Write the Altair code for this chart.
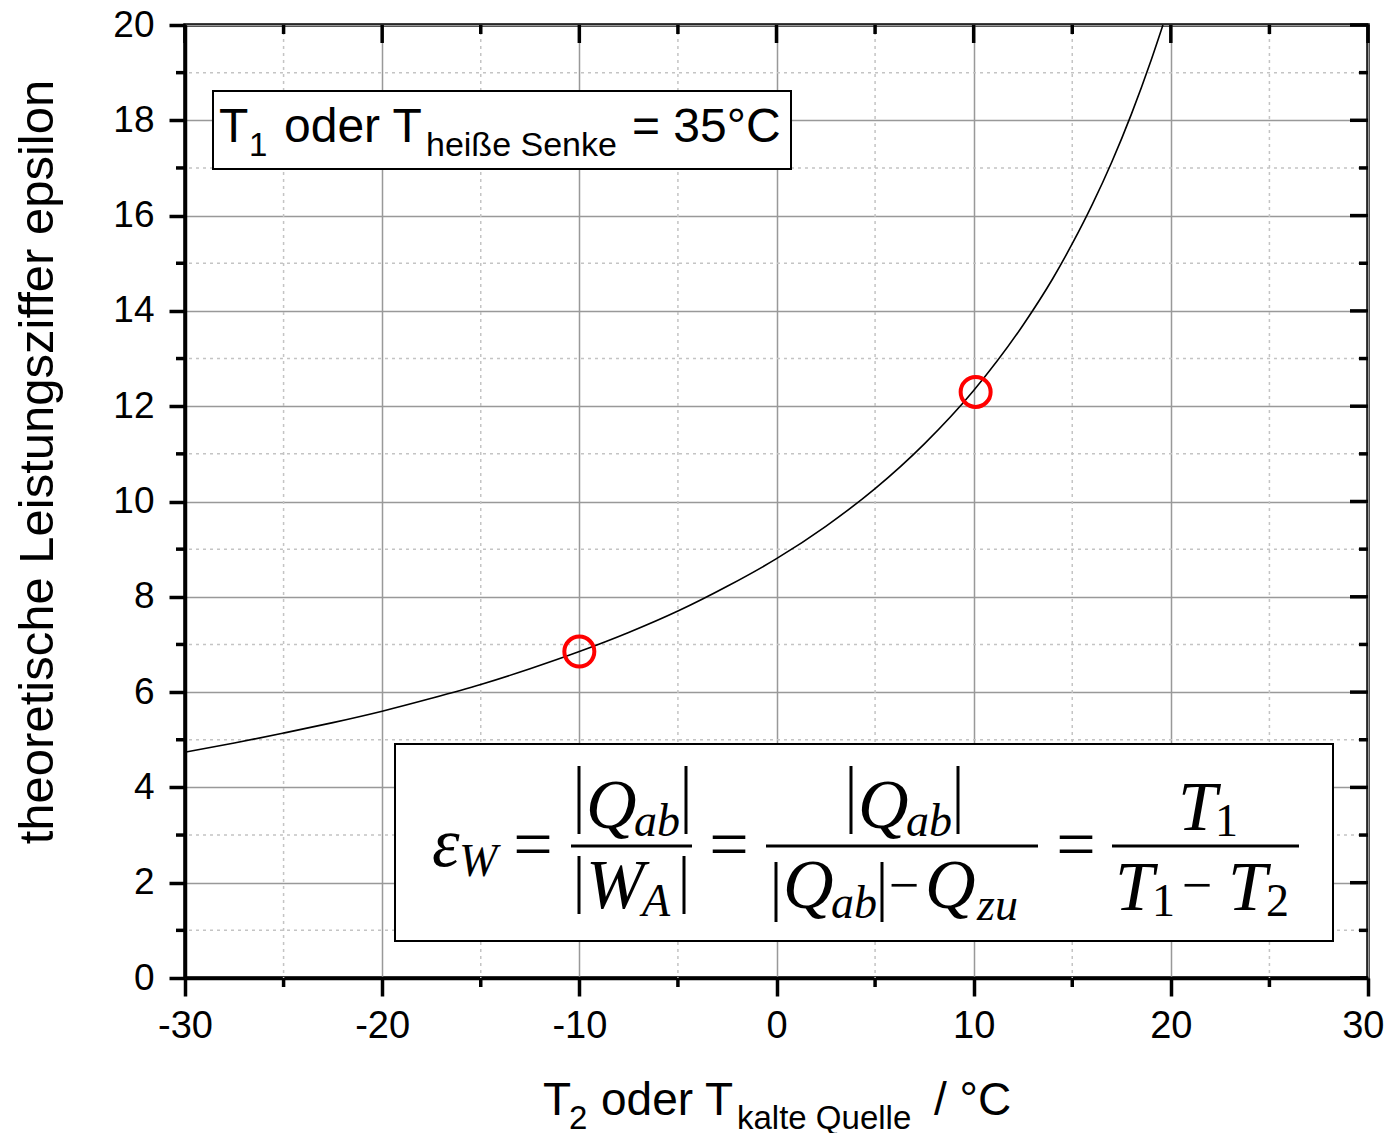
import altair as alt
import pandas as pd

# ---- data ----
t2_values = [-30, -27.5, -25, -22.5, -20, -17.5, -15, -12.5, -10, -7.5, -5, -2.5,
             0, 2.5, 5, 7.5, 10, 12.5, 14, 15, 16, 17, 18, 19, 19.6]
eps_values = [4.74, 4.93, 5.14, 5.36, 5.60, 5.87, 6.16, 6.49, 6.85, 7.25, 7.70, 8.22,
              8.80, 9.48, 10.27, 11.21, 12.33, 13.70, 14.67, 15.41, 16.22, 17.12, 18.13, 19.26, 20.0]
marked_t2 = [-10, 10.1]
marked_eps = [6.85, 12.3]

x_major = [-30, -20, -10, 0, 10, 20, 30]
x_minor = [-25, -15, -5, 5, 15, 25]
y_major = [0, 2, 4, 6, 8, 10, 12, 14, 16, 18, 20]
y_minor = [1, 3, 5, 7, 9, 11, 13, 15, 17, 19]

y_title = "theoretische Leistungsziffer epsilon"
x_title_parts = ["T", "2", "oder T", "kalte Quelle", "/ °C"]
label_parts = ["T", "1", "oder T", "heiße Senke", "= 35°C"]

# ---- layout ----
W, H = 1183, 953
OX, OY = 185, 25  # page position of plot origin


def px(v):
    return v - OX


def py(v):
    return v - OY


one = pd.DataFrame({"k": [0]})

xs = alt.Scale(domain=[-30, 30], nice=False, zero=False)
ys = alt.Scale(domain=[0, 20], nice=False, zero=False)

curve_df = pd.DataFrame({"t2": t2_values, "eps": eps_values})
mark_df = pd.DataFrame({"t2": marked_t2, "eps": marked_eps})

x_axis = alt.Axis(values=x_major, labelExpr="'' + datum.value", labelFontSize=38,
                  labelFont="Liberation Sans", labelColor="black", tickSize=18, tickWidth=3.5,
                  tickColor="black", domainWidth=3.5, domainColor="black", grid=True,
                  gridColor="#999999", gridWidth=1.5, labelPadding=11, labelFlush=False, title=None,
                  labelAlign={"condition": {"test": "datum.value == 30", "value": "right"}, "value": "center"},
                  labelOffset={"condition": {"test": "datum.value == 30", "value": 16}, "value": 0})
y_axis = alt.Axis(values=y_major, labelExpr="'' + datum.value", labelFontSize=37,
                  labelFont="Liberation Sans", labelColor="black", tickSize=16, tickWidth=3.5,
                  tickColor="black", domainWidth=3.5, domainColor="black", grid=True,
                  gridColor="#999999", gridWidth=1.5, labelPadding=15, labelFlush=False, title=None)


def X(field):
    return alt.X(field, scale=xs, axis=x_axis)


def Y(field):
    return alt.Y(field, scale=ys, axis=y_axis)


layers = []

# minor grid
layers.append(alt.Chart(pd.DataFrame({"v": x_minor})).mark_rule(
    color="#c4c4c4", strokeWidth=1.5, strokeDash=[3, 4]).encode(x=X("v:Q")))
layers.append(alt.Chart(pd.DataFrame({"v": y_minor})).mark_rule(
    color="#c4c4c4", strokeWidth=1.5, strokeDash=[3, 4]).encode(y=Y("v:Q")))

# curve
layers.append(alt.Chart(curve_df).mark_line(color="black", strokeWidth=1.6, interpolate="monotone").encode(
    x=X("t2:Q"), y=Y("eps:Q")))

# red circles
layers.append(alt.Chart(mark_df).mark_point(shape="circle", filled=False, color="#ff0000",
                                             strokeWidth=4, size=900, opacity=1).encode(
    x=X("t2:Q"), y=Y("eps:Q")))

# ticks (minor outward bottom/left, inward top/right)
tick_style = dict(color="black", strokeWidth=3.5)
layers.append(alt.Chart(pd.DataFrame({"v": x_minor})).mark_rule(**tick_style).encode(
    x=X("v:Q"), y=alt.value(H), y2=alt.value(H + 9)))
layers.append(alt.Chart(pd.DataFrame({"v": y_minor})).mark_rule(**tick_style).encode(
    y=Y("v:Q"), x=alt.value(0), x2=alt.value(-9)))
layers.append(alt.Chart(pd.DataFrame({"v": x_major})).mark_rule(**tick_style).encode(
    x=X("v:Q"), y=alt.value(0), y2=alt.value(18)))
layers.append(alt.Chart(pd.DataFrame({"v": x_minor})).mark_rule(**tick_style).encode(
    x=X("v:Q"), y=alt.value(0), y2=alt.value(9)))
layers.append(alt.Chart(pd.DataFrame({"v": y_major})).mark_rule(**tick_style).encode(
    y=Y("v:Q"), x=alt.value(W), x2=alt.value(W - 18)))
layers.append(alt.Chart(pd.DataFrame({"v": y_minor})).mark_rule(**tick_style).encode(
    y=Y("v:Q"), x=alt.value(W), x2=alt.value(W - 9)))


def box(x1, y1, x2, y2, sw=2):
    return alt.Chart(one).mark_rect(fill="white", stroke="black", strokeWidth=sw).encode(
        x=alt.value(px(x1)), x2=alt.value(px(x2)), y=alt.value(py(y1)), y2=alt.value(py(y2)))


def txt(s, x, y, size, font="Liberation Sans", style="normal", align="left",
        baseline="alphabetic", angle=0):
    return alt.Chart(pd.DataFrame({"t": [s]})).mark_text(
        font=font, fontSize=size, fontStyle=style, align=align, baseline=baseline,
        angle=angle, color="black").encode(x=alt.value(px(x)), y=alt.value(py(y)), text="t:N")


def hline(x1, x2, y, sw=3):
    return alt.Chart(one).mark_rule(color="black", strokeWidth=sw).encode(
        x=alt.value(px(x1)), x2=alt.value(px(x2)), y=alt.value(py(y)))


def vline(x, y1, y2, sw=3):
    return alt.Chart(one).mark_rule(color="black", strokeWidth=sw).encode(
        x=alt.value(px(x)), y=alt.value(py(y1)), y2=alt.value(py(y2)))


# box 1: T1 = 35°C
layers.append(box(213, 91, 791, 169))
layers.append(txt(label_parts[0], 219, 142, 48))
layers.append(txt(label_parts[1], 249, 156, 33))
layers.append(txt(label_parts[2], 284, 142, 48))
layers.append(txt(label_parts[3], 426, 156, 34))
layers.append(txt(label_parts[4], 632, 142, 48))

# box 2: formula
layers.append(box(395, 744, 1333, 941))
SERIF = "Liberation Serif"
F, S = 70, 46
it = dict(font=SERIF, style="italic")
layers.append(txt("ε", 432, 866, F, **it))
layers.append(txt("W", 459, 876, S, **it))
for cx in [533, 729, 1076]:
    layers.append(txt("=", cx, 847, F, font=SERIF, align="center", baseline="middle"))
# fraction 1
layers.append(hline(571, 692, 846))
layers.append(vline(579, 766, 834))
layers.append(txt("Q", 586, 828, F, **it))
layers.append(txt("ab", 634, 836, S, **it))
layers.append(vline(686, 766, 834))
layers.append(vline(579, 856, 914))
layers.append(txt("W", 586, 908, F, **it))
layers.append(txt("A", 642, 916, S, **it))
layers.append(vline(684, 856, 914))
# fraction 2
layers.append(hline(766, 1038, 846))
layers.append(vline(851, 766, 834))
layers.append(txt("Q", 858, 828, F, **it))
layers.append(txt("ab", 906, 836, S, **it))
layers.append(vline(958, 766, 834))
layers.append(vline(776, 862, 922))
layers.append(txt("Q", 783, 908, F, **it))
layers.append(txt("ab", 831, 918, S, **it))
layers.append(vline(882, 862, 922))
layers.append(txt("−", 904, 887, 54, font=SERIF, align="center", baseline="middle"))
layers.append(txt("Q", 925, 908, F, **it))
layers.append(txt("zu", 977, 920, S, **it))
# fraction 3
layers.append(hline(1112, 1299, 846))
layers.append(txt("T", 1178, 830, F, **it))
layers.append(txt("1", 1215, 836, S, font=SERIF))
layers.append(txt("T", 1115, 910, F, **it))
layers.append(txt("1", 1152, 916, S, font=SERIF))
layers.append(txt("−", 1197, 887, 54, font=SERIF, align="center", baseline="middle"))
layers.append(txt("T", 1228, 910, F, **it))
layers.append(txt("2", 1266, 916, S, font=SERIF))

# axis titles
layers.append(txt(y_title, 38, 462, 49, align="center", baseline="middle", angle=270))
layers.append(txt(x_title_parts[0], 543, 1115, 46))
layers.append(txt(x_title_parts[1], 569, 1129, 33))
layers.append(txt(x_title_parts[2], 601, 1115, 46))
layers.append(txt(x_title_parts[3], 737, 1129, 33))
layers.append(txt(x_title_parts[4], 934, 1115, 46))

chart = alt.layer(*layers).properties(
    width=W, height=H,
    autosize=alt.AutoSizeParams(type="none"),
    padding={"left": OX - 8, "top": OY - 8, "right": 16, "bottom": 155},
    background="white",
).configure_view(stroke="black", strokeWidth=3.5)

chart.save("out.html", embed_options={"renderer": "svg", "actions": False})
